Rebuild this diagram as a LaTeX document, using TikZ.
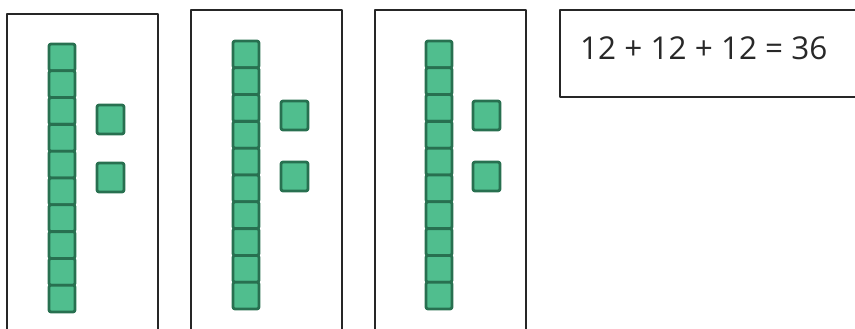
\documentclass[tikz,border=0pt]{standalone}
\usepackage{fontspec}
\setmainfont{Open Sans}
\definecolor{cubefill}{RGB}{80,190,142}
\definecolor{cubeline}{RGB}{40,112,80}
\definecolor{textgray}{RGB}{40,40,40}
\begin{document}
\begin{tikzpicture}[x=1pt, y=-1pt, line join=round, line cap=round]
	\useasboundingbox (0,0) rectangle (855,329);
	\tikzset{cube/.style={fill=cubefill, draw=cubeline, line width=2.8pt, rounded corners=2pt},
		frame/.style={line width=1.6pt, draw=black!85}}
	\def\cw{26} \def\ch{26.8}
	% three groups of one ten and two ones
	\foreach \bx/\by/\tx/\ty/\sx/\sa/\sb in {7/14/49/44/97/105/163, 191/10/233/41/281/101/162, 375/10/426/41/473/101/162}{
		\draw[frame] (\bx,340) -- (\bx,\by) -- (\bx+151,\by) -- (\bx+151,340);
		\foreach \k in {0,...,9}
			\draw[cube] (\tx,\ty+\k*\ch) rectangle +(\cw,\ch);
		\draw[cube] (\sx,\sa) rectangle +(27,29);
		\draw[cube] (\sx,\sb) rectangle +(27,29);
	}
	\draw[frame] (870,10) -- (560,10) -- (560,97) -- (870,97);
	\node[anchor=base west, inner sep=0, text=textgray, font=\fontsize{31.5}{38}\selectfont] (sum) at (580,59.3) {12 + 12 + 12 = 36};
\end{tikzpicture}
\end{document}
